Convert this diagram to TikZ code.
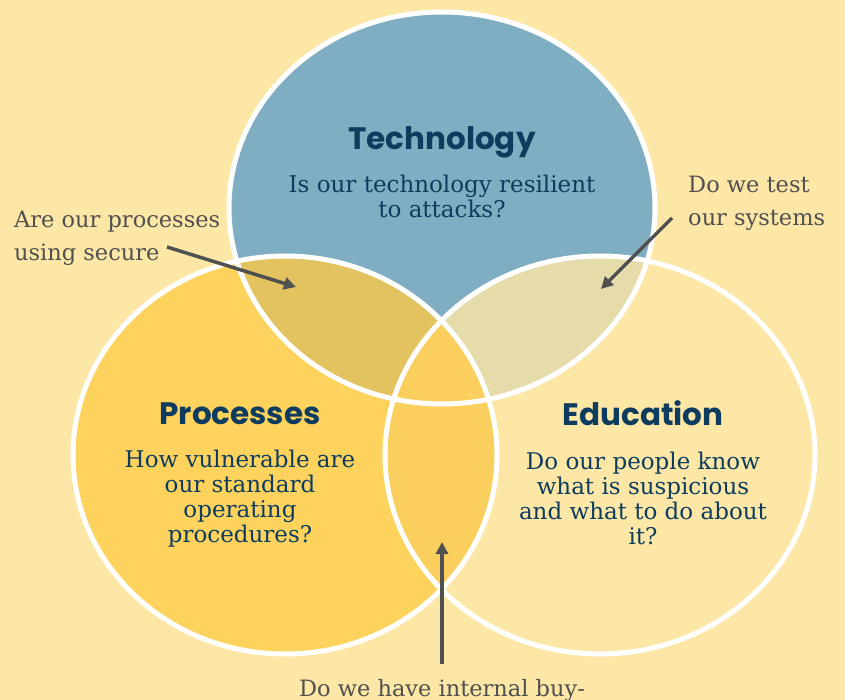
\documentclass[tikz,border=0pt]{standalone}
\usepackage{fontspec}
\setmainfont{DejaVu Serif}
\newfontfamily\titlefont{Poppins}
\usetikzlibrary{arrows.meta,positioning}

\definecolor{bgyellow}{HTML}{FCE7A6}
\definecolor{techblue}{HTML}{7FAEC2}
\definecolor{procgold}{HTML}{FDD35E}
\definecolor{techproc}{HTML}{E3C35F}
\definecolor{techedu}{HTML}{E5DCAA}
\definecolor{procedu}{HTML}{FACF5D}
\definecolor{navy}{HTML}{0D3C5F}
\definecolor{notegray}{HTML}{505050}

\newcommand{\techshape}{(442,-208) ellipse [x radius=213pt, y radius=196pt]}
\newcommand{\procshape}{(285,-455) ellipse [x radius=212pt, y radius=199pt]}
\newcommand{\edushape}{(600,-455) ellipse [x radius=215pt, y radius=199pt]}

\tikzset{
  title/.style={font=\titlefont\bfseries\fontsize{31}{33}\selectfont, text=navy, inner sep=0pt},
  question/.style={font=\fontsize{23}{25}\selectfont, text=navy, align=center, inner sep=0pt, anchor=north},
  note/.style={font=\fontsize{22.5}{33}\selectfont, text=notegray, align=left, inner sep=0pt},
  pointer/.style={draw=notegray, line width=3.5pt, -{Triangle[length=12pt,width=12pt]}},
  ring/.style={draw=white, line width=5pt}
}

\begin{document}
\begin{tikzpicture}[x=1pt,y=1pt]
\useasboundingbox[fill=bgyellow] (0,0) rectangle (845,-700);

% circles
\fill[bgyellow] \edushape;
\fill[procgold] \procshape;
\fill[techblue] \techshape;
\begin{scope}
\clip \techshape;
\fill[techproc] \procshape;
\fill[techedu] \edushape;
\end{scope}
\begin{scope}
\clip \procshape;
\fill[procedu] \edushape;
\end{scope}
\foreach \s in {\edushape,\procshape,\techshape} {
\draw[ring] \s;
}

% headings and questions
\node[title] (tech) at (442,-142) {Technology};
\node[question] (techq) at (442,-175) {Is our technology resilient\\to attacks?};
\node[title] (proc) at (240,-414) {Processes};
\node[question] (procq) at (240,-450) {How vulnerable are\\our standard\\operating\\procedures?};
\node[title] (edu) at (643,-413) {Education};
\node[question] (eduq) at (643,-452) {Do our people know\\what is suspicious\\and what to do about\\it?};

% side notes
\node[note, anchor=north west] (secure) at (14,-211) {Are our processes\\using secure};
\node[note, anchor=north west] (test) at (688,-176) {Do we test\\our systems};
\node[note, anchor=north] (buyin) at (442,-679) {Do we have internal buy-};

\coordinate (secure0) at (167,-247);
\coordinate (secure1) at (296,-287);
\coordinate (test0) at (672,-218);
\coordinate (test1) at (601,-289);
\coordinate (buyin0) at (442,-664);
\coordinate (buyin1) at (442,-542);

\draw[pointer] (secure0) -- (secure1);
\draw[pointer] (test0) -- (test1);
\draw[pointer] (buyin0) -- (buyin1);
\end{tikzpicture}
\end{document}
